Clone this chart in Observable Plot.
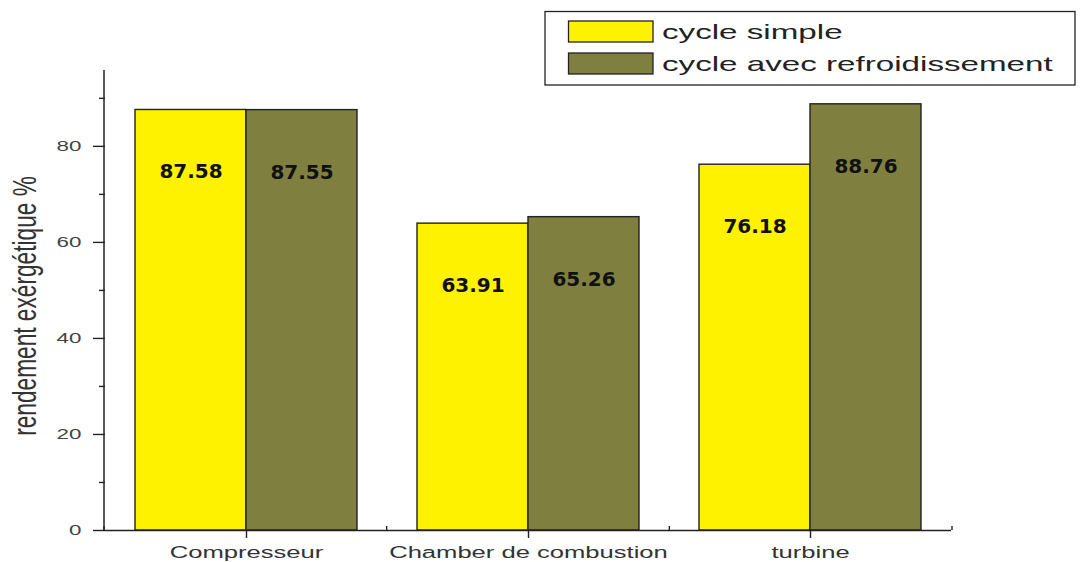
<!DOCTYPE html>
<html>
<head>
<meta charset="utf-8">
<script src="https://cdn.jsdelivr.net/npm/d3@7"></script>
<script src="https://cdn.jsdelivr.net/npm/@observablehq/plot@0.6"></script>
<style>
  html, body { margin: 0; padding: 0; background: #fff; }
  #chart { width: 1081px; height: 562px; }
</style>
</head>
<body>
<div id="chart"></div>
<script>
// Exergy efficiency per component, simple cycle vs. cycle with cooling
const categories = ["Compresseur", "Chamber de combustion", "turbine"];
const seriesNames = ["cycle simple", "cycle avec refroidissement"];
const simpleValues = [87.58, 63.91, 76.18];
const coolingValues = [87.55, 65.26, 88.76];
const yTicks = [0, 20, 40, 60, 80];
const yMinorTicks = [10, 30, 50, 70, 90];
const yTitle = "rendement exérgétique %";
const seriesColors = ["#FFF200", "#7F7F40"];

const rows = categories.flatMap((c, i) => [
  {category: c, series: seriesNames[0], value: simpleValues[i]},
  {category: c, series: seriesNames[1], value: coolingValues[i]}
]);

const ink = "#222";
const textFont = "'Liberation Sans', Arial, sans-serif";
const stretch = 1.6; // wide, flattened lettering of the original export

const plot = Plot.plot({
  width: 1081,
  height: 562,
  marginLeft: 104,
  marginRight: 129,
  marginTop: 70,
  marginBottom: 32,
  style: {fontFamily: textFont, background: "#fff", color: ink, overflow: "visible"},
  fx: {domain: categories, padding: 0, label: null},
  x: {domain: seriesNames, paddingInner: 0, paddingOuter: 0.268, axis: null},
  y: {domain: [0, 95.8], label: null},
  color: {domain: seriesNames, range: seriesColors},
  marks: [
    Plot.barY(rows, {fx: "category", x: "series", y: "value", fill: "series", stroke: ink, strokeWidth: 1.4}),
    Plot.text(rows, {
      fx: "category", x: "series", y: "value",
      text: d => d.value.toFixed(2),
      dy: 62,
      fontFamily: "'DejaVu Sans', Verdana, sans-serif",
      fontWeight: "bold",
      fontSize: 20,
      fill: "#111"
    }),
    Plot.ruleY([0], {stroke: ink, strokeWidth: 1.5}),
    Plot.axisY({ticks: yTicks, tickSize: 12, tickPadding: 12, fontSize: 14, label: null, strokeWidth: 1.4, fill: "#444"}),
    Plot.axisY({ticks: yMinorTicks, tickSize: 6, tickFormat: () => "", label: null, strokeWidth: 1.4}),
    Plot.axisFx({anchor: "bottom", tickSize: 8, tickPadding: 8, fontSize: 16, label: null, strokeWidth: 1.4, fill: "#333"})
  ]
});

document.getElementById("chart").appendChild(plot);

const svg = d3.select(plot);

// Widen the axis lettering around each label's own anchor point
svg.selectAll('[aria-label$="tick label"] text').each(function () {
  const t = this.getAttribute("transform");
  if (t) {
    this.setAttribute("transform", t + ` scale(${stretch},1)`);
  } else {
    const x = +this.getAttribute("x") || 0;
    this.setAttribute("transform", `translate(${x},0) scale(${stretch},1) translate(${-x},0)`);
  }
});

const fx = plot.scale("fx");
const y = plot.scale("y");
const y0 = y.apply(0);
const yTop = Math.min(...y.range);
const xStart = Math.min(...fx.range);
const xEnd = Math.max(...fx.range);
const bandStep = (xEnd - xStart) / categories.length;

// Vertical axis line
svg.append("line")
  .attr("x1", xStart).attr("x2", xStart)
  .attr("y1", y0).attr("y2", yTop)
  .attr("stroke", ink).attr("stroke-width", 1.5);

// Small upward ticks separating the component groups
svg.append("g")
  .selectAll("line")
  .data(d3.range(categories.length + 1))
  .join("line")
  .attr("x1", i => xStart + i * bandStep)
  .attr("x2", i => xStart + i * bandStep)
  .attr("y1", y0)
  .attr("y2", y0 - 4)
  .attr("stroke", ink).attr("stroke-width", 1.4);

// Y axis title
svg.append("text")
  .attr("transform", `translate(36,306) scale(1.6,1) rotate(-90) scale(1.08,1)`)
  .attr("text-anchor", "middle")
  .attr("font-family", textFont)
  .attr("font-size", 21)
  .attr("fill", "#333")
  .text(yTitle);

// Legend
const legend = svg.append("g").attr("aria-label", "legend");
legend.append("rect")
  .attr("x", 545).attr("y", 11.5)
  .attr("width", 530).attr("height", 73.5)
  .attr("fill", "#fff").attr("stroke", ink).attr("stroke-width", 1.3);
seriesNames.forEach((name, i) => {
  const top = 21 + i * 32;
  legend.append("rect")
    .attr("x", 568.5).attr("y", top)
    .attr("width", 84.5).attr("height", 21)
    .attr("fill", seriesColors[i]).attr("stroke", ink).attr("stroke-width", 1.3);
  legend.append("text")
    .attr("transform", `translate(662,${top + 18}) scale(1.58,1)`)
    .attr("text-anchor", "start")
    .attr("font-family", textFont)
    .attr("font-size", 21)
    .attr("fill", ink)
    .text(name);
});
</script>
</body>
</html>
